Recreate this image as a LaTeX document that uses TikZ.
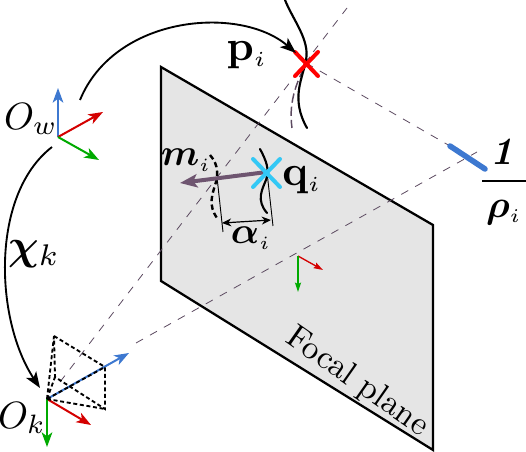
\documentclass[tikz,border=0pt]{standalone}
\usepackage{amsmath,bm}
\usetikzlibrary{arrows.meta}
\definecolor{axred}{HTML}{D40000}
\definecolor{axgreen}{HTML}{00AA00}
\definecolor{axblue}{HTML}{3D78D0}
\definecolor{raypurple}{HTML}{5C4A60}
\definecolor{arrowpurple}{HTML}{6E5570}
\definecolor{planegray}{HTML}{E5E5E5}
\definecolor{crosscyan}{HTML}{33C8F5}
\tikzset{
  axis/.style={line width=1.5pt,-{Stealth[length=11pt,width=8pt,inset=3pt]}},
  smallaxis/.style={line width=1pt,-{Stealth[length=7pt,width=4.5pt,inset=1pt]}},
  ray/.style={raypurple,line width=0.6pt,dash pattern=on 6pt off 6pt},
  curveline/.style={black,line width=1.6pt,line cap=round},
  motion/.style={black,line width=1.4pt,-{Stealth[length=12pt,width=9pt,inset=3pt]}},
  frustum/.style={black,line width=1.4pt,dash pattern=on 3pt off 2pt},
  lab/.style={inner sep=0pt,outer sep=0pt},
  biglab/.style={lab,scale=3.2},
  midlab/.style={lab,scale=2.8},
}
\begin{document}
\begin{tikzpicture}[x=0.75pt,y=-0.75pt]
\useasboundingbox (0,0) rectangle (526,452);
\coordinate (A) at (161,67);
\coordinate (B) at (433,225);
\coordinate (C) at (433,450);
\coordinate (D) at (161,281);
\coordinate (P) at (306,63);
\coordinate (Q) at (267,172);
\coordinate (Ow) at (58,137);
\coordinate (Ok) at (47,399);
\coordinate (Oc) at (298,256);
\coordinate (R1) at (450,146);
\coordinate (R2) at (485,169);
\coordinate (Ray1s) at (136,343);
\coordinate (Ray1e) at (477,152);
\coordinate (Ray2s) at (60,382);
\coordinate (Ray2e) at (347,8);
\coordinate (M) at (217,177);

\draw[black,line width=1.7pt,fill=planegray,line join=miter] (A) -- (B) -- (C) -- (D) -- cycle;

% rays
\draw[ray] (Ray2s) -- (Ray2e);
\draw[ray] (Ray1s) -- (Ray1e);
\draw[ray] (P) -- (R1);

% curves around p
\draw[raypurple,line width=1.1pt,dash pattern=on 7pt off 3pt] (310,57) .. controls (298,78) and (288,100) .. (292,128);
\draw[curveline] (285,0) .. controls (293,20) and (310,40) .. (306,60) .. controls (303,78) and (290,98) .. (307,128);

% curves around q
\draw[curveline] (260,149) .. controls (266,160) and (270,170) .. (266,180) .. controls (262,190) and (256,200) .. (267,213);
\draw[black,line width=1.8pt,dash pattern=on 4pt off 2.5pt] (210,155) .. controls (216,162) and (219,170) .. (216,182) .. controls (212,195) and (208,205) .. (217,218);

% alpha
\coordinate (La) at (223,232);
\coordinate (Lb) at (273,226);
\coordinate (Ma) at (222,223);
\coordinate (Mb) at (271,220);
\draw[black,line width=0.7pt] (M) -- (La);
\draw[black,line width=0.7pt] (Q) -- (Lb);
\draw[black,line width=0.9pt,{Stealth[length=7pt,width=6pt]}-{Stealth[length=7pt,width=6pt]}] (Ma) -- (Mb);

% m arrow
\coordinate (Mend) at (180,183);
\draw[arrowpurple,line width=3pt,-{Stealth[length=13pt,width=10pt,inset=3pt]}] (Q) -- (Mend);

% crosses
\draw[red,line width=3pt,line cap=round] (295,76) -- (318,52) (295,52) -- (318,76);
\draw[crosscyan,line width=3pt,line cap=round] (253,187) -- (280,159) (253,159) -- (280,187);

% inverse-depth bar
\draw[axblue,line width=4.2pt,line cap=round] (R1) -- (R2);

% world axes
\draw[axis,axblue] (Ow) -- (58,88);
\draw[axis,axred] (Ow) -- (103,112);
\draw[axis,axgreen] (Ow) -- (99,160);

% frustum
\coordinate (F1) at (54,336);
\coordinate (F2) at (105,367);
\coordinate (F3) at (105,409);
\coordinate (F4) at (55,377);
\draw[axis,axblue] (Ok) -- (129,353);
\draw[axis,axred] (Ok) -- (91,425);
\draw[axis,axgreen] (Ok) -- (47,447);
\draw[frustum] (F1) -- (F2) -- (F3) -- (F4) -- cycle;
\draw[frustum] (Ok) -- (F1) (Ok) -- (F2) (Ok) -- (F3) (Ok) -- (F4);

% image axes
\draw[smallaxis,axred] (Oc) -- (323,270);
\draw[smallaxis,axgreen] (Oc) -- (298,292);

% motions
\coordinate (Wa) at (80,100);
\coordinate (Wb) at (296,53);
\coordinate (Wc) at (52,147);
\coordinate (Wd) at (40,388);
\draw[motion] (Wa) .. controls (115,15) and (240,5) .. (Wb);
\draw[motion] (Wc) .. controls (-10,195) and (-5,320) .. (Wd);

% labels
\node[biglab] (lp) at (247,55) {$\mathbf{p}_{\scriptscriptstyle i}$};
\node[biglab] (lq) at (302,180) {$\mathbf{q}_{\scriptscriptstyle i}$};
\node[midlab] (lm) at (186,160) {$\bm{m}_{\scriptscriptstyle i}$};
\node[midlab] (la) at (251,238) {$\bm{\alpha}_{\scriptscriptstyle i}$};
\node[lab,scale=2.85] (lw) at (31,119) {$O_{w}$};
\node[lab,scale=2.85] (lk) at (22,418) {$O_{k}$};
\node[lab,scale=3.2] (lc) at (34,254) {$\bm{\chi}_{k}$};
\node[lab,scale=2.9] (lr) at (504,182) {$\dfrac{\bm{\mathit{1}}}{\hspace{1pt}\bm{\rho}_{\scriptscriptstyle i}\hspace{1pt}}$};
\node[lab,rotate=-35,scale=2.5] (lf) at (357,382) {Focal plane};
\end{tikzpicture}
\end{document}
